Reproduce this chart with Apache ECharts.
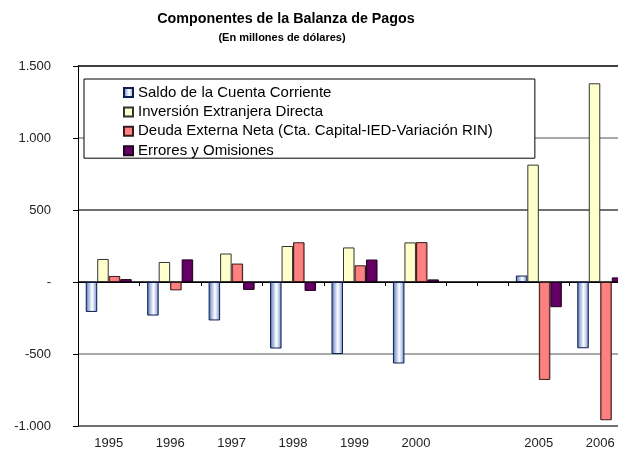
<!DOCTYPE html>
<html>
<head>
<meta charset="utf-8">
<script src="https://cdn.jsdelivr.net/npm/echarts@6/dist/echarts.min.js"></script>
<style>
  html, body { margin: 0; padding: 0; background: #fff; }
  #main { width: 618px; height: 452px; }
</style>
</head>
<body>
<div id="main"></div>
<script>
// datos (millones de dolares)
var years = ['1995', '1996', '1997', '1998', '1999', '2000', '', '2005', '2006'];
var seriesNames = [
  'Saldo de la Cuenta Corriente',
  'Inversión Extranjera Directa',
  'Deuda Externa Neta (Cta. Capital-IED-Variación RIN)',
  'Errores y Omisiones'
];
var saldo     = [-208, -233, -267, -462, -500, -566, null,   45, -460];
var inversion = [ 160,  139,  198,  250,  240,  275, null,  815, 1380];
var deuda     = [  42,  -58,  128,  276,  116,  277, null, -680, -960];
var errores   = [  20,  157,  -55,  -62,  156,   18, null, -175,   32];

var FONT = 'Liberation Sans, Arial, sans-serif';

// eje en cero: medias categorias para colocar las marcas
var halfSlots = [];
for (var i = 0; i < years.length * 2; i++) halfSlots.push('');

function fmt(v) {
  if (v === 0) return '-';
  var s = Math.abs(v).toString().replace(/\B(?=(\d{3})+(?!\d))/g, '.');
  return (v < 0 ? '-' : '') + s;
}

function hGrad(stops) {
  return new echarts.graphic.LinearGradient(0, 0, 1, 0, stops.map(function (s) {
    return { offset: s[0], color: s[1] };
  }));
}

var styles = [
  { color: hGrad([[0, '#4565a8'], [0.25, '#a3b6df'], [0.55, '#ffffff'], [0.8, '#b4c3e6'], [1, '#5474b6']]), borderColor: '#0d1f4f', borderWidth: 1 },
  { color: '#ffffcc', borderColor: '#333333', borderWidth: 1 },
  { color: hGrad([[0, '#b45454'], [0.2, '#ff8080'], [0.8, '#ff8080'], [1, '#a44a4a']]), borderColor: '#3a1a1a', borderWidth: 1 },
  { color: hGrad([[0, '#4a004a'], [0.25, '#660066'], [0.75, '#660066'], [1, '#420042']]), borderColor: '#1e001e', borderWidth: 1 }
];
var values = [saldo, inversion, deuda, errores];

var myChart = echarts.init(document.getElementById('main'));

var option = {
  animation: false,
  backgroundColor: '#fff',
  textStyle: { fontFamily: FONT },
  title: [{
    text: 'Componentes de la Balanza de Pagos',
    left: 286, top: 12, padding: 0, textAlign: 'center',
    textStyle: { fontFamily: FONT, fontSize: 14.3, fontWeight: 'bold', color: '#000' }
  }, {
    text: '(En millones de dólares)',
    left: 282, top: 32, padding: 0, textAlign: 'center',
    textStyle: { fontFamily: FONT, fontSize: 11, fontWeight: 'bold', color: '#000' }
  }],
  legend: {
    orient: 'vertical',
    left: 84, top: 79,
    padding: [6, 42, 0, 39],
    borderColor: '#000', borderWidth: 1,
    backgroundColor: '#fff',
    itemWidth: 9, itemHeight: 9, itemGap: 4.4,
    icon: 'rect',
    textStyle: { fontFamily: FONT, fontSize: 15, color: '#000', lineHeight: 14 },
    data: seriesNames
  },
  grid: { left: 78, top: 66, bottom: 26, width: 553, outerBoundsMode: 'none' },
  xAxis: [{
    type: 'category',
    data: years,
    position: 'bottom',
    axisLine: { show: false, onZero: false },
    axisTick: { show: false },
    axisLabel: { margin: 11, fontFamily: FONT, fontSize: 13, color: '#222' },
    splitLine: { show: false }
  }, {
    type: 'category',
    data: halfSlots,
    position: 'bottom',
    axisLine: { show: true, onZero: true, lineStyle: { color: '#000', width: 1 } },
    axisTick: {
      show: true, length: 4, lineStyle: { color: '#000' },
      interval: function (idx) { return idx % 2 === 0 || idx === 13; }
    },
    axisLabel: { show: false },
    splitLine: { show: false }
  }],
  yAxis: {
    type: 'value',
    min: -1000, max: 1500, interval: 500,
    axisLine: { show: true, lineStyle: { color: '#000', width: 1 } },
    axisTick: { show: true, length: 5, lineStyle: { color: '#000' } },
    axisLabel: { margin: 27, fontFamily: FONT, fontSize: 13, color: '#222', formatter: fmt },
    splitLine: { show: true, lineStyle: { color: ['#404040', '#8c8c8c', '#000000'], width: 1.5 } }
  },
  series: seriesNames.map(function (name, k) {
    return {
      name: name,
      type: 'bar',
      xAxisIndex: 0,
      barGap: '0%',
      barWidth: 11.5,
      itemStyle: styles[k],
      emphasis: { disabled: true },
      data: values[k]
    };
  })
};

myChart.setOption(option);
</script>
</body>
</html>
